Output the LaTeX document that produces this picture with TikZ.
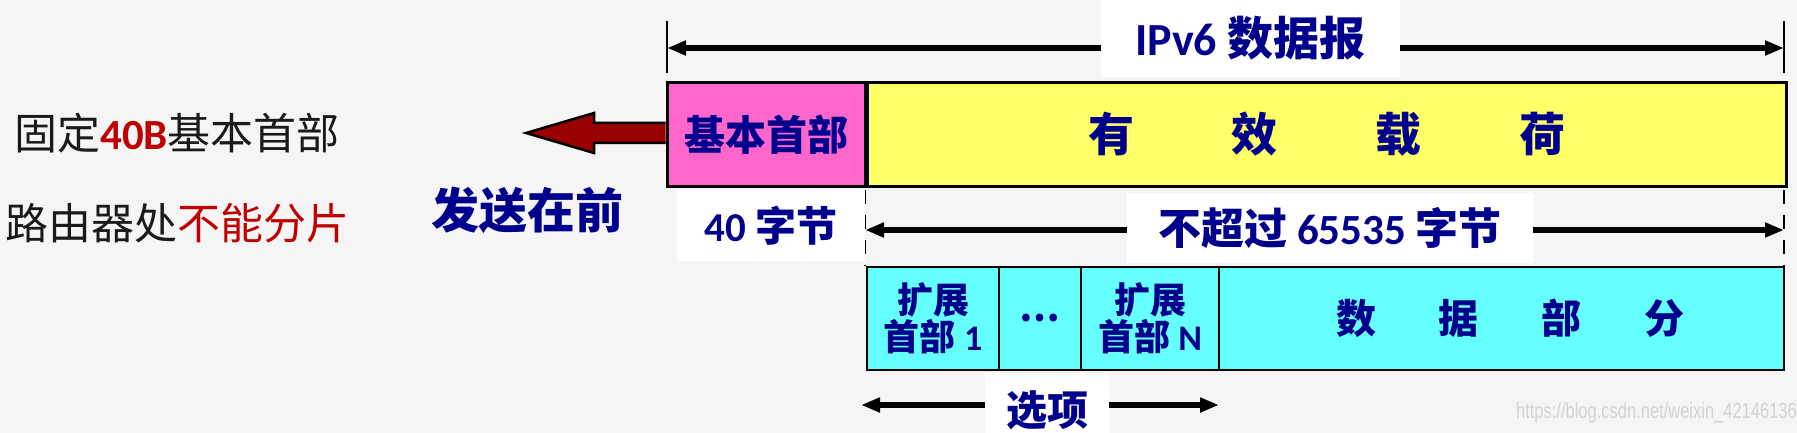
\documentclass[tikz,border=0pt]{standalone}
\usepackage{fontspec}
\setmainfont{Noto Sans CJK SC}
\newfontfamily\lat{Carlito}
\newfontfamily\wm{Liberation Sans}[FakeStretch=0.75]
\usetikzlibrary{arrows.meta}
\definecolor{bgc}{HTML}{F5F5F5}
\definecolor{navy}{HTML}{00008C}
\definecolor{dred}{HTML}{C00000}
\definecolor{pinkc}{HTML}{FF66CC}
\definecolor{yelc}{HTML}{FFFF66}
\definecolor{cyanc}{HTML}{66FFFF}
\definecolor{arrred}{HTML}{990000}
\definecolor{txtc}{HTML}{1A1A1A}
\definecolor{wmc}{HTML}{D2D2D2}
\begin{document}
\begin{tikzpicture}[x=1pt,y=-1pt,
  box/.style={draw=black,line width=3pt,inner sep=0pt,minimum height=103pt,text=navy},
  cell/.style={draw=black,line width=2.5pt,inner sep=0pt,minimum height=103pt,text=navy,align=center},
  wlabel/.style={fill=white,inner sep=0pt,text=navy},
  dim/.style={line width=6.5pt,{Triangle[length=19pt,width=14pt]}-{Triangle[length=19pt,width=14pt]}},
  tickline/.style={line width=2.5pt},
  dashline/.style={line width=2.5pt,dash pattern=on 14pt off 11pt},
  big/.style={font=\bfseries\fontsize{41}{44}\selectfont},
  mid/.style={font=\bfseries\fontsize{36}{37}\selectfont},
]
\clip (0,0) rectangle (1797,433);
\fill[bgc] (0,0) rectangle (1797,433);

% main datagram
\node[box,fill=pinkc,minimum width=198pt,big] (hdr) at (766,134.5) {基本首部};
\node[box,fill=yelc,minimum width=919pt,font=\bfseries\fontsize{46}{48}\selectfont] (pay) at (1327,134.5)
  {有\hspace{98pt}效\hspace{98pt}载\hspace{98pt}荷};

% top dimension
\coordinate (tl) at (667,48);
\coordinate (tr) at (1784,48);
\draw[tickline] (667,21) -- (667,73);
\draw[tickline] (1784,21) -- (1784,73);
\draw[dim] (tl) -- (tr);
\node[wlabel,minimum width=299pt,minimum height=77pt,font=\bfseries\fontsize{46}{48}\selectfont] (ipv6) at (1250.5,38.5)
  {{\lat\bfseries IPv6} 数据报};

% big left arrow
\draw[fill=arrred,line width=2.5pt,line join=miter]
  (hdr.west |- 0,123) -- (594,123) -- (594,113) -- (526,133) -- (594,153) -- (594,143) -- (hdr.west |- 0,143);

% left texts
\node[anchor=west,inner sep=0pt,text=txtc,font=\fontsize{43}{45}\selectfont] (l1) at (14,133)
  {固定{\lat\bfseries\color{dred}40B}基本首部};
\node[anchor=west,inner sep=0pt,text=txtc,font=\fontsize{43}{45}\selectfont] (l2) at (5,223)
  {路由器处{\color{dred}不能分片}};
\node[anchor=west,inner sep=0pt,text=navy,font=\bfseries\fontsize{48}{50}\selectfont] (send) at (431,210)
  {发送在前};

% second dimension
\draw[dashline] (865,190) -- (865,266);
\draw[dashline] (1784,190) -- (1784,266);
\coordinate (ml) at (865,230);
\coordinate (mr) at (1784,230);
\draw[dim] (ml) -- (mr);
\node[wlabel,minimum width=188pt,minimum height=71pt,big] (b40) at (771,225.5)
  {{\lat\bfseries 40} 字节};
\node[wlabel,minimum width=406pt,minimum height=70pt,font=\bfseries\fontsize{43}{46}\selectfont] (max) at (1330,228)
  {不超过 {\lat\bfseries 65535} 字节};

% payload breakdown
\node[cell,fill=cyanc,minimum width=132pt,mid] (e1) at (933,318.5) {扩展\\首部 {\lat\bfseries 1}};
\node[cell,fill=cyanc,minimum width=82pt,mid] (dots) at (1040,318.5) {\raisebox{-6pt}{…}};
\node[cell,fill=cyanc,minimum width=138pt,mid] (eN) at (1150,318.5) {扩展\\首部 {\lat\bfseries N}};
\node[cell,fill=cyanc,minimum width=565pt,font=\bfseries\fontsize{40}{44}\selectfont] (data) at (1501.5,318.5)
  {\hspace{18pt}数\hspace{63pt}据\hspace{63pt}部\hspace{63pt}分};

% options dimension
\coordinate (ol) at (861,405);
\coordinate (or) at (1219,405);
\draw[dim] (ol) -- (or);
\node[wlabel,minimum width=124pt,minimum height=74pt,big] (opt) at (1047,410) {选项};

% watermark
\node[anchor=east,inner sep=0pt,text=wmc,font=\wm\fontsize{22}{24}\selectfont] (wmk) at (1797,413)
  {https://blog.csdn.net/weixin\_42146136};
\end{tikzpicture}
\end{document}
